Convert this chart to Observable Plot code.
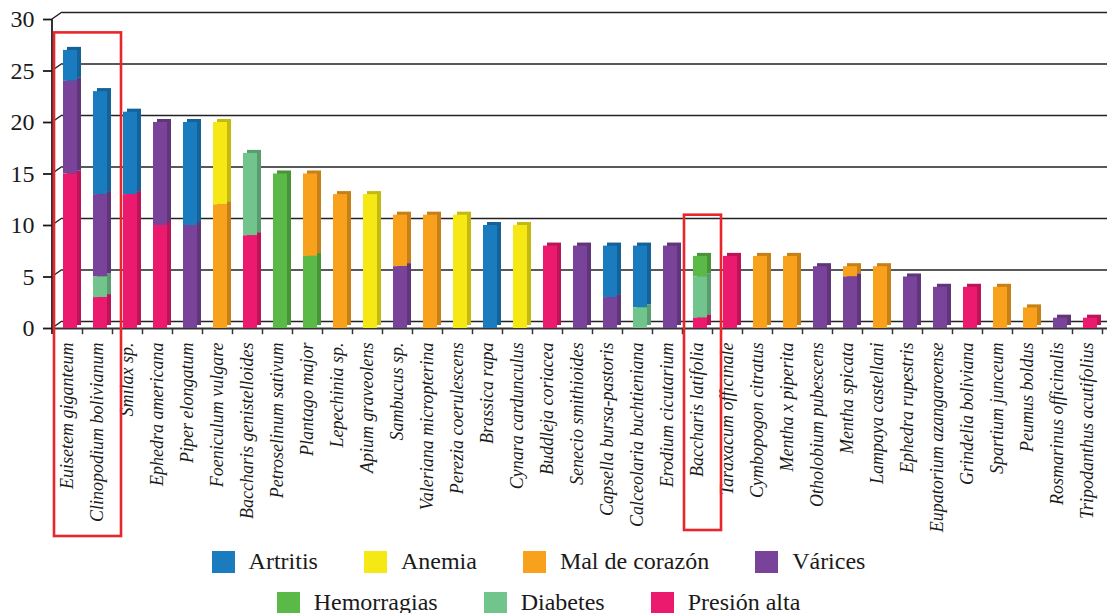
<!DOCTYPE html>
<html>
<head>
<meta charset="utf-8">
<script src="https://cdn.jsdelivr.net/npm/d3@7"></script>
<script src="https://cdn.jsdelivr.net/npm/@observablehq/plot@0.6"></script>
<style>
  html, body { margin: 0; padding: 0; background: #fff; }
  #chart { width: 1107px; }
  .legend { font-family: "Liberation Serif", "DejaVu Serif", serif; font-size: 24px; color: #1a1a1a; margin-top: -4px; padding-right: 30px; }
  .legend .row { display: flex; justify-content: center; column-gap: 46px; height: 41px; align-items: center; }
  .legend .item { display: flex; align-items: center; white-space: nowrap; }
  .legend .sw { width: 23px; height: 22px; margin-right: 14px; flex: none; }
</style>
</head>
<body>
<div id="chart"></div>
<script>
// ---- data ----
const species = [
  "Euisetem giganteum", "Clinopodium bolivianum", "Smilax sp.", "Ephedra americana",
  "Piper elongatum", "Foeniculum vulgare", "Baccharis genistelloides", "Petroselinum sativum",
  "Plantago major", "Lepechinia sp.", "Apium graveolens", "Sambucus sp.",
  "Valeriana micropterina", "Perezia coerulescens", "Brassica rapa", "Cynara cardunculus",
  "Buddleja coriacea", "Senecio smithioides", "Capsella bursa-pastoris", "Calceolaria buchtieniana",
  "Erodium cicutarium", "Baccharis latifolia", "Taraxacum officinale", "Cymbopogon citratus",
  "Mentha x piperita", "Otholobium pubescens", "Mentha spicata", "Lampaya castellani",
  "Ephedra rupestris", "Eupatorium azangaroense", "Grindelia boliviana", "Spartium junceum",
  "Peumus boldus", "Rosmarinus officinalis", "Tripodanthus acutifolius"
];
const artritis    = [3,10,8,0,10,0,0,0,0,0,0,0,0,0,10,0,0,0,5,6,0,0,0,0,0,0,0,0,0,0,0,0,0,0,0];
const anemia      = [0,0,0,0,0,8,0,0,0,0,13,0,0,11,0,10,0,0,0,0,0,0,0,0,0,0,0,0,0,0,0,0,0,0,0];
const malCorazon  = [0,0,0,0,0,12,0,0,8,13,0,5,11,0,0,0,0,0,0,0,0,0,0,7,7,0,1,6,0,0,0,4,2,0,0];
const varices     = [9,8,0,10,10,0,0,0,0,0,0,6,0,0,0,0,0,8,3,0,8,0,0,0,0,6,5,0,5,4,0,0,0,1,0];
const hemorragias = [0,0,0,0,0,0,0,15,7,0,0,0,0,0,0,0,0,0,0,0,0,2,0,0,0,0,0,0,0,0,0,0,0,0,0];
const diabetes    = [0,2,0,0,0,0,8,0,0,0,0,0,0,0,0,0,0,0,0,2,0,4,0,0,0,0,0,0,0,0,0,0,0,0,0];
const presionAlta = [15,3,13,10,0,0,9,0,0,0,0,0,0,0,0,0,8,0,0,0,0,1,7,0,0,0,0,0,0,0,4,0,0,0,1];

const diseases = ["Artritis", "Anemia", "Mal de corazón", "Várices", "Hemorragias", "Diabetes", "Presión alta"];
const diseaseValues = [artritis, anemia, malCorazon, varices, hemorragias, diabetes, presionAlta];
const diseaseColors = ["#1a7bbf", "#f6e814", "#f8a11d", "#784399", "#5bb947", "#70c48c", "#ec1a6e"];
const stackOrder = ["Presión alta", "Diabetes", "Hemorragias", "Várices", "Mal de corazón", "Anemia", "Artritis"];
const yTicks = [0, 5, 10, 15, 20, 25, 30];
const highlights = [
  {from: "Euisetem giganteum", to: "Clinopodium bolivianum", top: 28.7, drop: 208},
  {from: "Baccharis latifolia", to: "Baccharis latifolia", top: 11.0, drop: 202}
];

// long table built from the arrays
const rows = [];
species.forEach((s, i) => {
  diseases.forEach((d, k) => {
    const v = diseaseValues[k][i];
    if (v > 0) rows.push({species: s, disease: d, value: v});
  });
});

const serif = "'Liberation Serif', 'DejaVu Serif', serif";
const stackOpts = {x: "species", y: "value", z: "disease", fill: "disease", order: stackOrder};

function decor(index, scales, values, dims) {
  const y = scales.y;
  const x0 = dims.marginLeft;
  const g = d3.create("svg:g");
  for (const t of yTicks) {
    g.append("line").attr("x1", x0).attr("y1", y(t)).attr("x2", x0 + 10).attr("y2", y(t) - 7)
      .attr("stroke", "#222").attr("stroke-width", 1.5);
  }
  g.append("line").attr("x1", x0).attr("x2", x0).attr("y1", y(30)).attr("y2", y(0) + 6)
    .attr("stroke", "#333").attr("stroke-width", 2);
  return g.node();
}

function boxes(index, scales, values, dims) {
  const sx = scales.x, y = scales.y;
  const bw = typeof sx.bandwidth === "function" ? sx.bandwidth() : (sx.bandwidth || 14);
  const g = d3.create("svg:g");
  for (const h of highlights) {
    const left = sx(h.from) - 9;
    const right = sx(h.to) + bw + 14;
    const top = y(h.top);
    const bottom = y(0) + h.drop;
    g.append("rect").attr("x", left).attr("y", top).attr("width", right - left).attr("height", bottom - top)
      .attr("fill", "none").attr("stroke", "#e8262b").attr("stroke-width", 2.6);
  }
  return g.node();
}

const chart = Plot.plot({
  width: 1107,
  height: 545,
  marginLeft: 52,
  marginRight: 0,
  marginTop: 19,
  marginBottom: 217,
  style: {fontFamily: serif, background: "#fff", color: "#1a1a1a"},
  x: {domain: species, range: [55, 1105], paddingInner: 0.53, paddingOuter: 0.265, axis: null},
  y: {domain: [0, 30], axis: null},
  color: {domain: diseases, range: diseaseColors},
  marks: [
    Plot.ruleY(yTicks, {dy: -7, insetLeft: 10, stroke: "#222", strokeWidth: 1.5}),
    decor,
    Plot.ruleY([0], {stroke: "#333", strokeWidth: 2}),
    Plot.ruleX(species, {x: d => d, y1: 0, y2: -0.6, dx: 12, stroke: "#333", strokeWidth: 1.5}),
    Plot.barY(rows, Plot.stackY({...stackOpts, dx: 4, dy: -3})),
    Plot.barY(rows, Plot.stackY({...stackOpts, fill: "black", fillOpacity: 0.2, dx: 4, dy: -3})),
    Plot.barY(rows, Plot.stackY(stackOpts)),
    Plot.axisY({ticks: yTicks, tickSize: 9, tickPadding: 9, fontSize: 24, fontFamily: serif, strokeWidth: 1.8, label: null}),
    Plot.axisX({tickSize: 0, tickPadding: 14, tickRotate: -90, fontSize: 18, fontStyle: "italic", fontFamily: serif, dx: -3, label: null}),
    boxes
  ]
});
document.getElementById("chart").appendChild(chart);

// legend
const legend = document.createElement("div");
legend.className = "legend";
[diseases.slice(0, 4), diseases.slice(4)].forEach(group => {
  const row = document.createElement("div");
  row.className = "row";
  group.forEach(d => {
    const item = document.createElement("div");
    item.className = "item";
    const sw = document.createElement("span");
    sw.className = "sw";
    sw.style.background = diseaseColors[diseases.indexOf(d)];
    const label = document.createElement("span");
    label.textContent = d;
    item.appendChild(sw);
    item.appendChild(label);
    row.appendChild(item);
  });
  legend.appendChild(row);
});
document.getElementById("chart").appendChild(legend);
</script>
</body>
</html>
